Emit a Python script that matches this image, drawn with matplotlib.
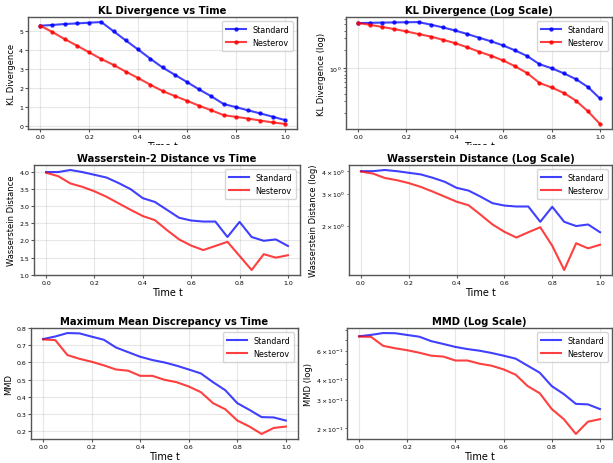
import matplotlib
matplotlib.use("Agg")
import matplotlib.pyplot as plt
from matplotlib.patches import Rectangle

# time grid
t = [0.0, 0.05, 0.1, 0.15, 0.2, 0.25, 0.3, 0.35, 0.4, 0.45, 0.5,
     0.55, 0.6, 0.65, 0.7, 0.75, 0.8, 0.85, 0.9, 0.95, 1.0]

kl_standard = [5.26, 5.30, 5.35, 5.38, 5.42, 5.45, 4.97, 4.49, 4.02, 3.54, 3.08,
               2.70, 2.32, 1.93, 1.57, 1.17, 1.01, 0.84, 0.68, 0.51, 0.335]
kl_nesterov = [5.26, 4.93, 4.56, 4.22, 3.87, 3.52, 3.21, 2.86, 2.53, 2.18, 1.85,
               1.59, 1.34, 1.08, 0.84, 0.59, 0.50, 0.41, 0.31, 0.21, 0.132]

w2_standard = [3.99, 3.99, 4.05, 3.99, 3.91, 3.83, 3.67, 3.49, 3.23, 3.12, 2.89,
               2.66, 2.58, 2.55, 2.55, 2.10, 2.54, 2.10, 1.99, 2.03, 1.84]
w2_nesterov = [3.97, 3.87, 3.66, 3.56, 3.43, 3.27, 3.08, 2.89, 2.71, 2.59, 2.30,
               2.03, 1.85, 1.72, 1.84, 1.96, 1.55, 1.14, 1.60, 1.50, 1.57]

mmd_standard = [0.736, 0.751, 0.771, 0.769, 0.750, 0.732, 0.687, 0.660, 0.633, 0.614, 0.600,
                0.581, 0.559, 0.536, 0.485, 0.439, 0.363, 0.324, 0.282, 0.280, 0.262]
mmd_nesterov = [0.734, 0.730, 0.643, 0.621, 0.604, 0.583, 0.559, 0.552, 0.522, 0.522, 0.499,
                0.485, 0.460, 0.427, 0.363, 0.328, 0.262, 0.227, 0.184, 0.219, 0.227]

W, H = 613, 464


def box(left, top, right, bottom):
    # pixel box -> figure fraction
    return [left / W, (H - bottom) / H, (right - left) / W, (bottom - top) / H]


fig = plt.figure(figsize=(6.13, 4.64), dpi=100)

panels = [
    (box(28, 18, 297, 130), kl_standard, kl_nesterov, "KL Divergence vs Time", "KL Divergence", False, True),
    (box(346, 18, 612, 130), kl_standard, kl_nesterov, "KL Divergence (Log Scale)", "KL Divergence (log)", True, True),
    (box(34, 166, 300, 276), w2_standard, w2_nesterov, "Wasserstein-2 Distance vs Time", "Wasserstein Distance", False, False),
    (box(349, 166, 612, 276), w2_standard, w2_nesterov, "Wasserstein Distance (Log Scale)", "Wasserstein Distance (log)", True, False),
    (box(31, 329, 298, 440), mmd_standard, mmd_nesterov, "Maximum Mean Discrepancy vs Time", "MMD", False, False),
    (box(347, 329, 612, 440), mmd_standard, mmd_nesterov, "MMD (Log Scale)", "MMD (log)", True, False),
]

for i, (rect, std, nes, title, ylabel, logy, markers) in enumerate(panels):
    ax = fig.add_axes(rect)
    ax.set_zorder(0 if i < 2 else 2)
    mk = dict(marker="o", markersize=2.2) if markers else {}
    ax.plot(t, std, color="blue", alpha=0.75, linewidth=1.5, label="Standard", **mk)
    ax.plot(t, nes, color="red", alpha=0.75, linewidth=1.5, label="Nesterov", **mk)
    if logy:
        ax.set_yscale("log")
    ax.set_title(title, fontsize=7.2, fontweight="bold", pad=3)
    ax.set_xlabel("Time t", fontsize=7, labelpad=1.5)
    ax.set_ylabel(ylabel, fontsize=6, labelpad=2)
    ax.tick_params(which="both", labelsize=4.5, length=2, pad=1.5, color="#555555")
    ax.tick_params(which="minor", length=1.2)
    ax.grid(True, alpha=0.3)
    ax.legend(loc="upper right", fontsize=5.8, handlelength=2.5, borderpad=0.5, labelspacing=0.5)
    for s in ax.spines.values():
        s.set_color("#555555")
        s.set_linewidth(1.0)

# the second row sits over the lower half of the first row's x labels
fig.add_artist(Rectangle((0, (H - 162) / H), 1, 16 / H, transform=fig.transFigure,
                         facecolor="white", edgecolor="none", zorder=1))

fig.savefig("out.png", dpi=100)
